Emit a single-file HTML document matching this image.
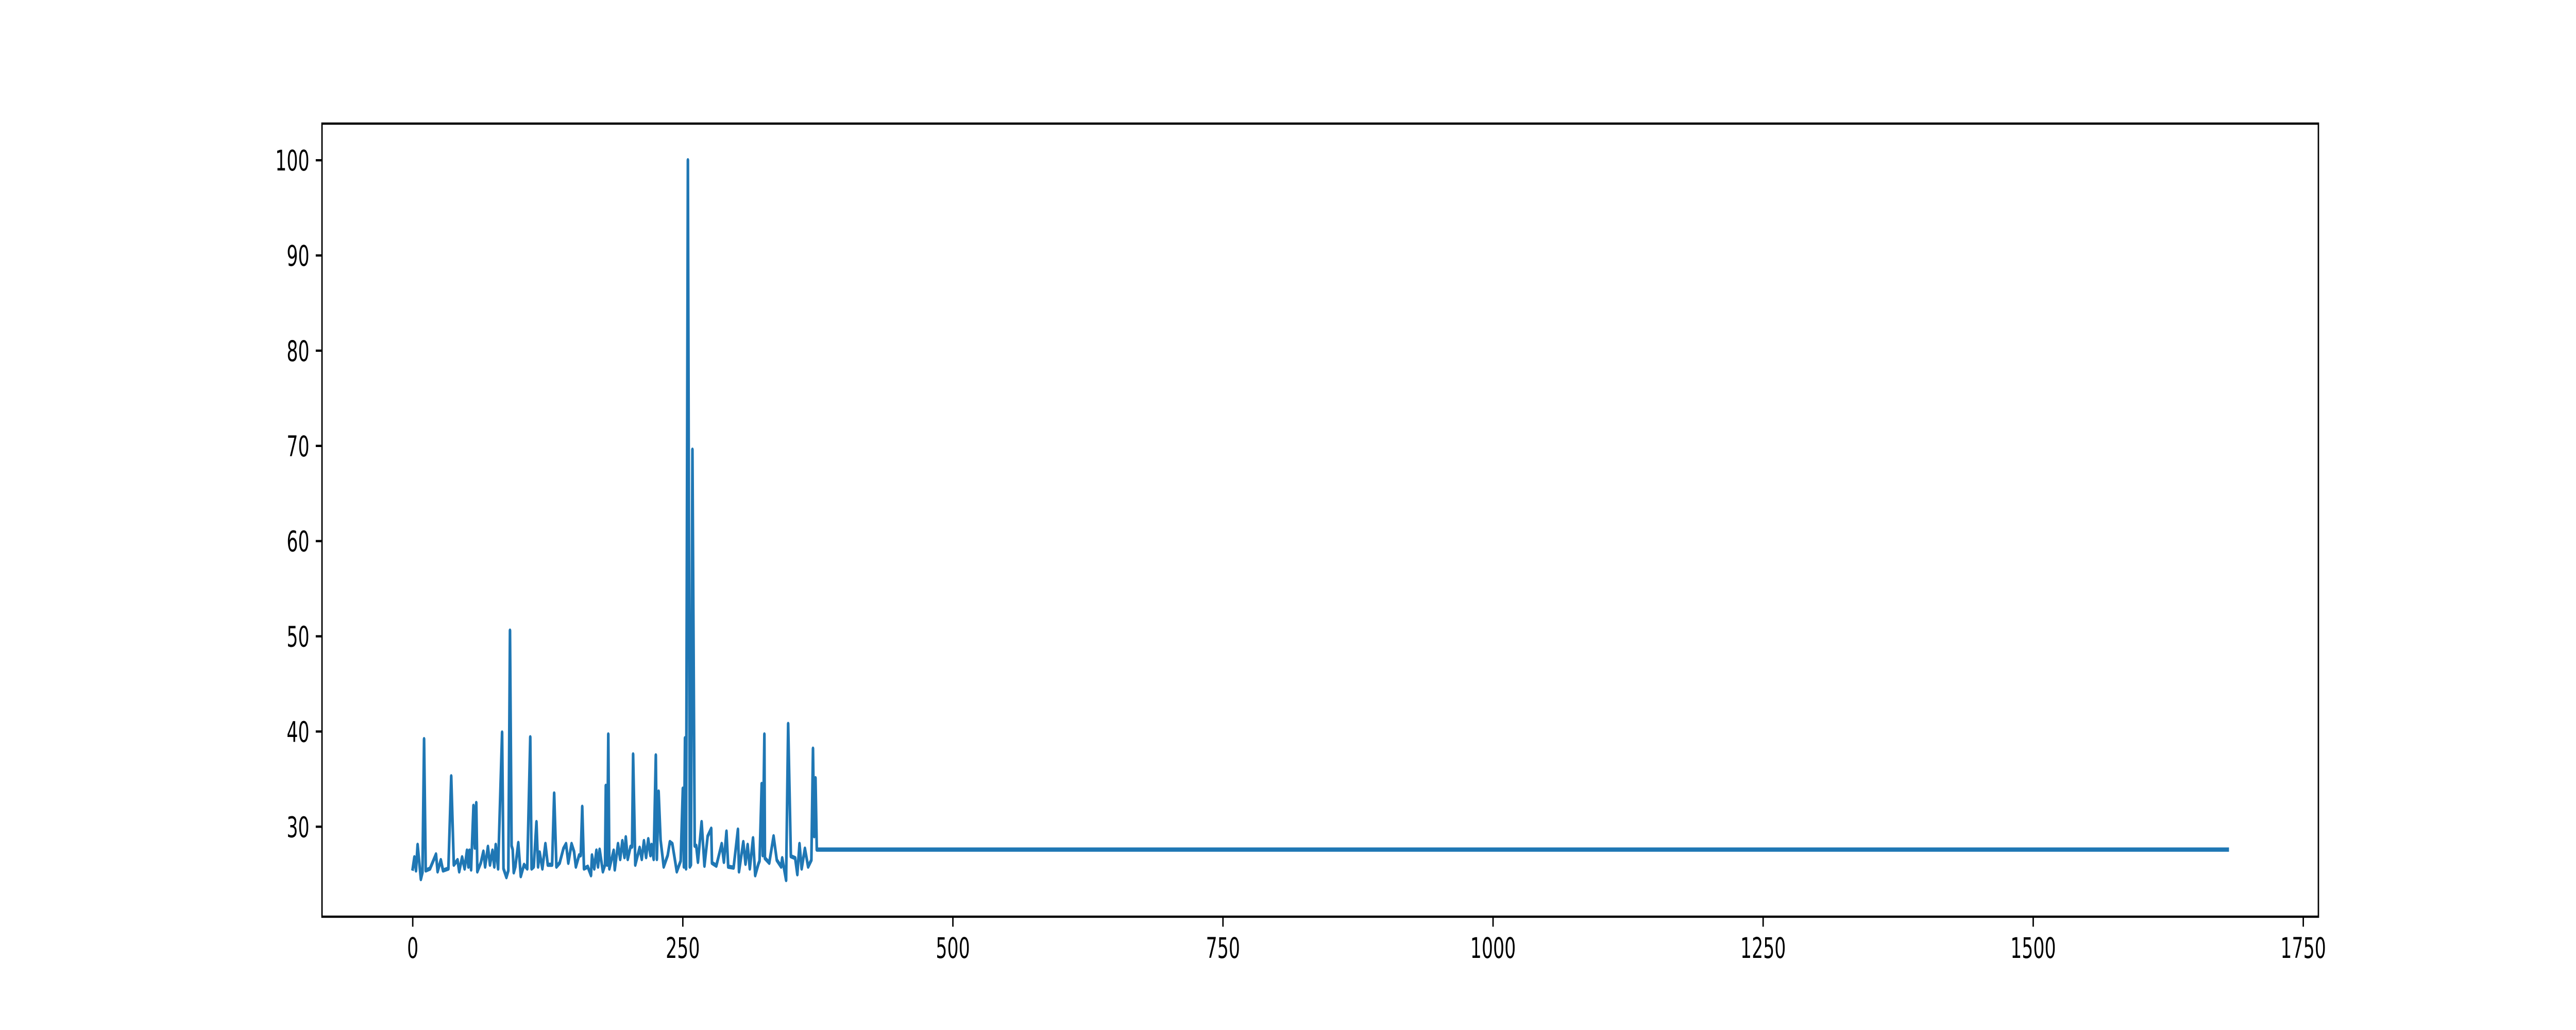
<!DOCTYPE html>
<html><head><meta charset="utf-8"><style>
html,body{margin:0;padding:0;background:#fff;overflow:hidden;width:100%;height:100%;}
svg{display:block;width:100vw;height:100vh;}
text{font-family:"DejaVu Sans","Liberation Sans",sans-serif;font-size:55.6px;fill:#000;}
</style></head><body>
<svg id="chart" viewBox="0 0 8000 2000" preserveAspectRatio="none" xmlns="http://www.w3.org/2000/svg">
<rect x="0" y="0" width="8000" height="2000" fill="#fff"/>
<g id="plot"></g>
</svg>
<script>
const points = [[0,25.6],[1.5,26.8],[3,25.4],[4.5,28.1],[7.5,24.5],[9,25.2],[10.5,39.2],[12,25.4],[16,25.6],[21.5,27.1],[23,25.3],[26,26.5],[28,25.4],[33,25.6],[35.6,35.3],[38,26.0],[41.5,26.5],[43,25.3],[45.7,26.8],[48,25.6],[50.2,27.5],[51.5,25.8],[52.5,27.5],[54,25.5],[56.2,32.2],[57.5,27.8],[58.8,32.5],[59.8,25.3],[63,26.2],[65.4,27.4],[67,25.8],[69.6,27.9],[71.5,26.0],[73.8,27.5],[75.5,25.8],[76.8,28.1],[79,25.6],[82.7,39.9],[84,25.6],[86.7,24.7],[88.5,25.4],[90,50.6],[91.5,28.0],[92.5,27.6],[93.5,25.2],[95,25.8],[97.7,28.3],[100,24.8],[103,26.0],[106,25.6],[108.8,39.4],[110,25.6],[112,25.8],[114.5,30.5],[116,25.8],[117.5,27.3],[120,25.6],[122.8,28.2],[125,26.0],[129,26.0],[130.9,33.5],[133,25.8],[136,26.2],[139.5,27.7],[141.9,28.2],[144,26.2],[147,28.2],[149.3,27.4],[151,25.8],[154,27.0],[155.5,27.0],[156.9,32.1],[158.5,25.6],[162,25.8],[165,24.9],[165.9,27.0],[168,25.6],[170,27.5],[171.5,25.8],[173,27.6],[176,25.3],[178,26.0],[178.7,34.3],[180,26.0],[181,39.7],[182,25.6],[186,27.5],[187,25.5],[190,28.2],[192,26.6],[194,28.5],[196,26.8],[197.2,28.9],[199,26.6],[201.6,27.9],[203,27.9],[204,37.6],[206,26.0],[210,27.8],[212,26.6],[214,28.5],[216,26.8],[218,28.7],[220,27.0],[221,28.1],[223,26.6],[225,37.5],[226,26.6],[227.6,33.7],[229.4,28.6],[232.3,25.8],[236,27.0],[238,28.4],[240.3,28.2],[244.4,25.3],[248,26.4],[250,34.0],[251,25.8],[252,39.3],[253,25.6],[254.7,100],[256.5,25.8],[257.5,26.0],[258.9,69.6],[261,28.0],[262.4,28.0],[264,26.3],[267.4,30.5],[270,25.9],[273,29.0],[276.3,29.8],[277,26.2],[281,25.9],[286,28.2],[288,26.3],[290.4,29.5],[292,25.8],[297,25.7],[301,29.7],[302,25.3],[306,28.4],[308,26.1],[310,28.1],[312,25.6],[315,28.8],[317,24.9],[320,26.1],[321,26.4],[323,34.5],[324,27.0],[325.5,39.7],[326,26.7],[330,26.2],[334,29.0],[337,26.5],[341,25.8],[342,26.7],[345.6,24.4],[347.5,40.8],[350,26.9],[354,26.7],[356,25.0],[358,28.2],[360,25.6],[363,27.7],[366,25.8],[369,26.5],[370.5,38.2],[371.6,29.0],[372.8,35.1],[374,27.6],[1680,27.6]];
const xTicks = [0,250,500,750,1000,1250,1500,1750];
const yTicks = [30,40,50,60,70,80,90,100];

const L=1000,R=7200,T=240,B=1780;
const XMIN=-84,XMAX=1764,YMIN=20.55,YMAX=103.85;
function sx(v){return L+(v-XMIN)/(XMAX-XMIN)*(R-L);}
function sy(v){return B-(v-YMIN)/(YMAX-YMIN)*(B-T);}
const NS="http://www.w3.org/2000/svg";
const g=document.getElementById('plot');
function mk(tag,attrs){const e=document.createElementNS(NS,tag);for(const k in attrs)e.setAttribute(k,attrs[k]);return e;}

const line=mk('polyline',{points:points.map(p=>sx(p[0]).toFixed(1)+','+sy(p[1]).toFixed(1)).join(' '),fill:'none',stroke:'#1f77b4','stroke-width':8.3,'stroke-linejoin':'round','stroke-linecap':'square'});


g.appendChild(line);

xTicks.forEach(t=>{
  const x=sx(t);
  const tk=mk('line',{x1:x,x2:x,y1:B,y2:B+19.4,stroke:'#000','stroke-width':4.4});
  
  
  g.appendChild(tk);
  const tx=mk('text',{x:x,y:1860,'text-anchor':'middle'});
  tx.textContent=t;
  
  
  g.appendChild(tx);
});
yTicks.forEach(t=>{
  const y=sy(t);
  const tk=mk('line',{x1:L-19.4,x2:L,y1:y,y2:y,stroke:'#000','stroke-width':4.4});
  
  
  g.appendChild(tk);
  const tx=mk('text',{x:961,y:y+20,'text-anchor':'end'});
  tx.textContent=t;
  
  
  g.appendChild(tx);
});
const frame=mk('rect',{x:L,y:T,width:R-L,height:B-T,fill:'none',stroke:'#000','stroke-width':4.4});


g.appendChild(frame);
</script>
</body></html>
